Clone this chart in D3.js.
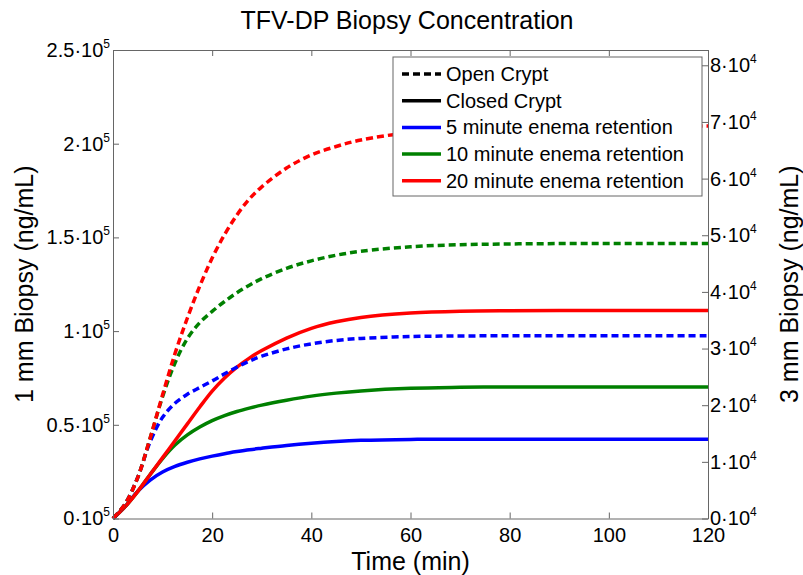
<!DOCTYPE html>
<html>
<head>
<meta charset="utf-8">
<script src="https://cdn.jsdelivr.net/npm/d3@7"></script>
<style>
  body { margin: 0; background: #fff; }
  text { font-family: 'Liberation Sans', Arial, sans-serif; fill: #000; }
</style>
</head>
<body>
<script>
// time in minutes
const time = [0, 2.5, 5, 7.5, 10, 12.5, 15, 17.5, 20, 22.5, 25, 27.5, 30, 35, 40, 45, 50, 60, 70, 80, 90, 100, 110, 120];

// open crypt (dashed), ng/mL on 1 mm axis
const open5 = [0, 8000, 22000, 41000, 54000, 61500, 66300, 69900, 73400, 77200, 80800, 84000, 86600, 90500, 93200, 95000, 96100, 97100, 97400, 97500, 97500, 97500, 97500, 97500];
const open10 = [0, 8000, 22000, 43000, 65000, 83000, 96000, 104500, 110500, 115800, 120500, 124500, 128000, 133500, 137500, 140500, 142600, 145000, 146100, 146500, 146700, 146700, 146700, 146700];
const open20 = [0, 8000, 22000, 43000, 66000, 88000, 107000, 124000, 139000, 151500, 162000, 170500, 177000, 187000, 194000, 198500, 202000, 206000, 208000, 209000, 209500, 209500, 209500, 209500];

// closed crypt (solid)
const closed5 = [0, 6500, 14500, 20500, 24800, 27800, 30000, 31800, 33300, 34600, 35700, 36700, 37500, 39000, 40200, 41100, 41700, 42200, 42300, 42300, 42300, 42300, 42300, 42300];
const closed10 = [0, 6500, 14500, 23500, 32000, 39200, 44600, 48800, 52200, 54900, 57100, 58900, 60500, 63100, 65300, 66900, 68100, 69500, 70000, 70200, 70200, 70200, 70200, 70200];
const closed20 = [0, 6500, 14500, 23500, 32500, 41500, 50500, 59500, 68000, 75000, 80800, 85600, 89600, 96300, 101500, 105000, 107300, 109600, 110600, 110900, 111000, 111000, 111000, 111000];

const xTicks = [0, 20, 40, 60, 80, 100, 120];
const leftTicks = [0, 0.5, 1, 1.5, 2, 2.5];   // x 10^5
const rightTicks = [0, 1, 2, 3, 4, 5, 6, 7, 8]; // x 10^4

const legendLabels = ['Open Crypt', 'Closed Crypt', '5 minute enema retention', '10 minute enema retention', '20 minute enema retention'];

render();

function render() {
    const svgWid = 803;
    const svgHt = 575;
    const margin = {top: 50, right: 95, bottom: 56, left: 113};
    const svg = d3.select('body').append('svg').attr('width', svgWid).attr('height', svgHt);
    svg.append('rect').attr('width', svgWid).attr('height', svgHt).attr('fill', '#fff');

    var innerW = svgWid - margin.left - margin.right;
    var innerH = svgHt - margin.top - margin.bottom - 0.5;

    var xScale = d3.scaleLinear().domain([0, 120]).range([0, innerW]);
    var yScale = d3.scaleLinear().domain([0, 250000]).range([innerH, 0]);
    var y2Scale = d3.scaleLinear().domain([0, 82700]).range([innerH, 0]);

    const g = svg.append('g').attr('transform', `translate(${margin.left},${margin.top})`);

    //curves
    const series = [
        {v: closed5, color: '#0000ff', dash: null},
        {v: closed10, color: '#008000', dash: null},
        {v: closed20, color: '#ff0000', dash: null},
        {v: open5, color: '#0000ff', dash: '7,4'},
        {v: open10, color: '#008000', dash: '7,4'},
        {v: open20, color: '#ff0000', dash: '7,4'}
    ];
    const line = d3.line()
        .x(d => xScale(d[0]))
        .y(d => yScale(d[1]))
        .curve(d3.curveCatmullRom.alpha(0.5));

    series.forEach(s => {
        g.append('path')
            .attr('d', line(time.map((t, i) => [t, s.v[i]])))
            .attr('fill', 'none')
            .attr('stroke', s.color)
            .attr('stroke-width', 3.5)
            .attr('stroke-dasharray', s.dash);
    });

    //axes (ticks point inward like matlab)
    const axisColor = '#666';
    const xAxisG = g.append('g').attr('transform', `translate(0,${innerH})`)
        .call(d3.axisBottom(xScale).tickValues(xTicks).tickSize(-6).tickSizeOuter(0).tickPadding(9));
    xAxisG.selectAll('text').attr('font-size', '20px').attr('font-family', 'Liberation Sans, Arial, sans-serif');

    g.append('g')
        .call(d3.axisTop(xScale).tickValues(xTicks).tickSize(-6).tickSizeOuter(0).tickFormat(''));

    const yAxisG = g.append('g')
        .call(d3.axisLeft(yScale).tickValues(leftTicks.map(d => d * 1e5)).tickSize(-6).tickSizeOuter(0).tickPadding(3));
    yAxisG.selectAll('.tick text').each(function(d, i) { sci(d3.select(this), leftTicks[i], 5); });

    const y2AxisG = g.append('g').attr('transform', `translate(${innerW},0)`)
        .call(d3.axisRight(y2Scale).tickValues(rightTicks.map(d => d * 1e4)).tickSize(-6).tickSizeOuter(0).tickPadding(2));
    y2AxisG.selectAll('.tick text').each(function(d, i) { sci(d3.select(this), rightTicks[i], 4); });

    g.selectAll('.domain, .tick line').attr('stroke', axisColor);

    //legend
    const leg = g.append('g').attr('transform', `translate(${393 - margin.left},${57 - margin.top})`);
    leg.append('rect').attr('width', 309).attr('height', 139)
        .attr('fill', '#fff').attr('stroke', axisColor);
    const legColors = ['#000', '#000', '#0000ff', '#008000', '#ff0000'];
    legendLabels.forEach((lab, i) => {
        const yy = 17 + i * 26.7;
        leg.append('line').attr('x1', 9).attr('x2', 48).attr('y1', yy).attr('y2', yy)
            .attr('stroke', legColors[i]).attr('stroke-width', 3.5)
            .attr('stroke-dasharray', i === 0 ? '7,4' : null);
        leg.append('text').text(lab).attr('x', 53).attr('y', yy).attr('dy', '0.35em')
            .attr('font-size', '20px');
    });

    //title + labels
    svg.append('text').text('TFV-DP Biopsy Concentration').attr('text-anchor', 'middle')
        .attr('x', 407).attr('y', 29).attr('font-size', '25px');
    svg.append('text').text('Time (min)').attr('text-anchor', 'middle')
        .attr('x', margin.left + innerW / 2).attr('y', 570).attr('font-size', '25px');
    svg.append('text').text('1 mm Biopsy (ng/mL)').attr('text-anchor', 'middle')
        .attr('transform', `translate(33,${margin.top + innerH / 2}) rotate(-90)`).attr('font-size', '25px');
    svg.append('text').text('3 mm Biopsy (ng/mL)').attr('text-anchor', 'middle')
        .attr('transform', `translate(798,${margin.top + innerH / 2}) rotate(-90)`).attr('font-size', '25px');
}

// mantissa·10^exp with a superscript
function sci(t, m, e) {
    t.text(null).attr('font-size', '20px').attr('font-family', 'Liberation Sans, Arial, sans-serif');
    t.append('tspan').text(m + '\u00b710');
    t.append('tspan').attr('dy', -9).attr('font-size', '12px').text(e);
}
</script>
</body>
</html>
